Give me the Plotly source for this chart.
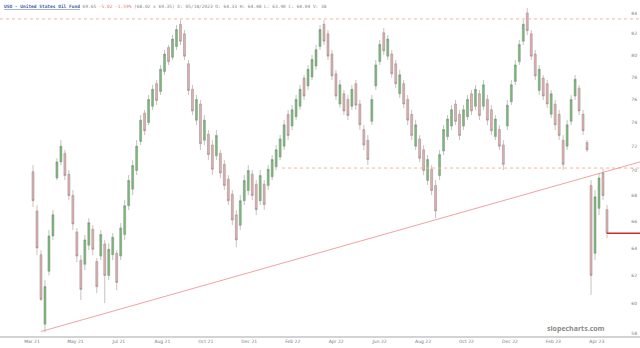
import plotly.graph_objects as go

# ---- data ----
opens = [69.9, 66.8, 63.5, 58.6, 62.3, 64.9, 69.4, 70.7, 71.4, 69.7,
         68.0, 65.2, 63.1, 62.8, 64.2, 65.4, 63.0, 63.4, 64.3, 62.0,
         63.5, 63.6, 63.4, 65.0, 67.2, 68.5, 70.0, 72.4, 74.8, 74.0,
         75.4, 77.4, 76.7, 78.5, 80.7, 79.8, 80.8, 82.9, 82.0, 79.2,
         76.9, 74.2, 75.6, 72.5, 73.0, 72.1, 71.2, 71.4, 70.5, 69.3,
         68.1, 66.5, 65.7, 67.6, 68.4, 69.7, 68.9, 67.6, 68.9, 68.8,
         69.5, 70.3, 71.1, 72.0, 74.7, 73.7, 74.5, 75.4, 77.9, 77.2,
         78.0, 79.0, 80.8, 82.9, 82.0, 80.1, 78.3, 75.6, 76.5, 76.0,
         75.4, 77.4, 75.6, 73.4, 72.5, 74.1, 77.2, 79.4, 82.1, 79.9,
         80.1, 79.2, 76.5, 77.4, 76.0, 74.7, 72.0, 72.6, 71.7, 69.2,
         70.1, 68.8, 69.6, 71.6, 72.8, 73.7, 75.6, 74.7, 73.7, 74.5,
         76.5, 75.4, 76.5, 75.4, 76.0, 75.1, 72.8, 73.4, 72.1, 73.7,
         75.8, 77.6, 79.4, 81.3, 84.0, 82.0, 80.1, 76.8, 77.9, 77.4,
         74.7, 75.6, 74.7, 72.5, 72.0, 74.1, 76.3, 77.0, 74.7, 72.3,
         68.8, 63.6, 67.0, 69.8, 66.9]
highs = [70.44, 67.26, 63.84, 61.66, 65.34, 66.87, 71.00, 72.51, 71.68, 70.04,
         68.43, 65.49, 63.47, 64.97, 66.25, 65.72, 63.25, 65.34, 64.59, 64.36,
         65.12, 63.84, 65.87, 67.65, 69.63, 70.85, 72.51, 74.64, 75.08, 76.39,
         77.28, 77.73, 79.09, 80.48, 80.94, 81.88, 82.84, 83.32, 82.36, 79.55,
         77.28, 76.39, 75.95, 74.64, 73.36, 72.51, 73.36, 71.68, 70.85, 69.63,
         68.43, 66.87, 68.04, 69.63, 70.44, 70.04, 69.23, 70.04, 69.23, 70.44,
         71.26, 72.09, 72.93, 74.21, 75.08, 75.51, 76.39, 77.28, 78.18, 79.09,
         80.01, 80.94, 82.84, 83.32, 82.36, 80.48, 78.64, 77.73, 76.84, 76.39,
         77.28, 77.73, 75.95, 73.78, 72.93, 76.39, 79.55, 81.41, 82.55, 81.88,
         80.48, 79.55, 78.64, 77.73, 76.39, 75.08, 74.21, 72.93, 72.09, 71.26,
         70.44, 69.23, 71.68, 73.78, 74.64, 75.51, 75.95, 75.08, 75.51, 76.39,
         76.84, 77.28, 76.84, 77.73, 76.39, 75.51, 74.64, 73.78, 72.51, 75.95,
         77.73, 79.55, 81.41, 83.32, 84.48, 82.36, 80.48, 79.09, 78.18, 77.73,
         76.84, 75.95, 75.08, 72.93, 74.21, 76.39, 78.18, 77.28, 75.08, 72.51,
         69.23, 68.43, 69.79, 70.12, 67.26]
lows = [67.10, 63.47, 60.20, 58.05, 62.00, 64.59, 69.23, 70.44, 69.23, 67.65,
        65.34, 62.96, 60.25, 62.38, 63.84, 63.47, 60.74, 63.11, 60.04, 61.66,
        63.11, 60.95, 63.11, 64.59, 66.87, 68.04, 69.63, 72.09, 72.93, 73.78,
        75.08, 75.51, 76.39, 78.18, 79.09, 79.55, 80.48, 80.94, 79.55, 76.39,
        74.64, 73.78, 71.68, 72.09, 70.85, 69.63, 70.85, 69.39, 68.43, 67.26,
        65.72, 64.06, 65.34, 67.26, 68.04, 67.65, 66.48, 67.26, 66.87, 68.43,
        69.23, 70.04, 70.85, 71.68, 72.51, 73.36, 74.21, 75.08, 75.95, 76.84,
        77.73, 78.64, 80.48, 80.94, 79.55, 77.73, 75.95, 75.25, 74.64, 74.21,
        75.08, 75.08, 73.36, 71.68, 70.44, 73.78, 76.84, 79.09, 80.01, 79.55,
        77.91, 77.02, 76.13, 75.25, 73.78, 72.51, 71.68, 70.69, 69.63, 68.83,
        68.04, 66.25, 69.23, 71.26, 72.51, 73.36, 73.78, 72.51, 73.36, 74.21,
        74.64, 75.08, 74.21, 75.08, 73.78, 72.93, 72.51, 71.68, 70.04, 73.36,
        75.51, 77.28, 79.09, 80.94, 81.88, 79.55, 77.73, 76.39, 75.95, 75.25,
        74.38, 73.36, 72.51, 70.04, 71.68, 73.78, 75.95, 74.64, 72.93, 71.51,
        60.60, 63.11, 66.48, 67.65, 64.74]
closes = [67.6, 64.0, 60.3, 61.2, 64.9, 66.5, 70.7, 72.0, 69.6, 68.0,
          65.8, 63.4, 61.0, 64.6, 65.9, 63.9, 61.2, 65.0, 62.0, 63.9,
          64.8, 61.5, 65.5, 67.2, 69.2, 70.4, 72.0, 74.2, 73.3, 76.0,
          76.9, 75.9, 78.7, 80.1, 79.4, 81.5, 82.4, 81.3, 79.9, 76.8,
          75.0, 76.0, 72.2, 74.2, 71.3, 70.1, 72.9, 69.8, 68.8, 67.6,
          66.1, 64.6, 67.6, 69.2, 70.0, 68.0, 66.9, 69.6, 67.3, 70.1,
          70.9, 71.7, 72.6, 73.8, 72.9, 75.1, 76.0, 76.9, 76.3, 78.7,
          79.6, 80.5, 82.4, 81.3, 79.9, 78.1, 76.3, 77.3, 75.0, 74.6,
          76.9, 75.5, 73.8, 72.1, 70.9, 76.0, 79.1, 81.0, 80.4, 81.5,
          78.3, 77.4, 78.2, 75.6, 74.2, 72.9, 73.8, 71.0, 70.0, 70.9,
          68.4, 66.8, 71.3, 73.4, 74.3, 75.1, 74.1, 72.9, 75.1, 76.0,
          75.0, 76.9, 74.6, 77.3, 74.2, 73.3, 74.3, 72.0, 70.5, 75.5,
          77.3, 79.1, 81.0, 82.9, 82.3, 79.9, 78.1, 78.7, 76.3, 75.6,
          76.5, 73.8, 72.9, 70.5, 73.8, 76.0, 77.8, 75.0, 73.3, 71.7,
          62.0, 67.9, 69.4, 68.0, 65.1]

x_labels = ["Mar 21", "May 21", "Jul 21", "Aug 21", "Oct 21", "Dec 21", "Feb 22",
            "Apr 22", "Jun 22", "Aug 22", "Oct 22", "Dec 22", "Feb 23", "Apr 23"]
y_ticks = [58, 60, 62, 64, 66, 68, 70, 72, 74, 76, 78, 80, 82, 84]

resistance_top = 83.42
resistance_mid = 70.2
resistance_mid_start = 62.5          # candle index where the mid level begins
trend_start = (2, 58.1)              # (candle index, price)
trend_end_price = 70.7

header_name = "USO - United States Oil Fund"
header_last = "69.65"
header_change = "-5.02 -1.59%"
header_rest = "(68.02 x 69.35) D: 05/18/2023 O: 64.33 H: 64.48 L: 63.90 C: 64.04 V: 38"

# ---- figure ----
n = len(closes)
xs = list(range(n))
x_lo, x_hi = -8.28, 152.28

fig = go.Figure()
fig.add_trace(go.Candlestick(
    x=xs, open=opens, high=highs, low=lows, close=closes,
    increasing=dict(line=dict(color="#7d8a7d", width=0.5), fillcolor="#78bb78"),
    decreasing=dict(line=dict(color="#968484", width=0.5), fillcolor="#deb0b0"),
    whiskerwidth=0, showlegend=False, hoverinfo="skip"))

dash_style = dict(color="#f4b497", width=1, dash="3px,3px")
fig.add_trace(go.Scatter(x=[x_lo, x_hi], y=[resistance_top, resistance_top], mode="lines",
                         line=dash_style, showlegend=False, hoverinfo="skip"))
fig.add_trace(go.Scatter(x=[resistance_mid_start, x_hi], y=[resistance_mid, resistance_mid],
                         mode="lines", line=dash_style, showlegend=False, hoverinfo="skip"))
fig.add_trace(go.Scatter(x=[trend_start[0], x_hi], y=[trend_start[1], trend_end_price],
                         mode="lines", line=dict(color="#ec7a7a", width=0.7),
                         showlegend=False, hoverinfo="skip"))
fig.add_trace(go.Scatter(x=[n - 1, x_hi], y=[closes[-1], closes[-1]], mode="lines",
                         line=dict(color="#d02a2a", width=1.5),
                         showlegend=False, hoverinfo="skip"))

tickvals = [-0.25 + 10.9 * k for k in range(len(x_labels))]

fig.update_layout(
    width=640, height=348,
    margin=dict(l=0, r=0, t=0, b=12),
    paper_bgcolor="white", plot_bgcolor="white",
    xaxis=dict(range=[x_lo, x_hi], rangeslider=dict(visible=False), showgrid=False,
               zeroline=False, showline=True, linecolor="#d3d3d3", linewidth=2,
               tickmode="array", tickvals=tickvals, ticktext=x_labels, ticks="",
               tickfont=dict(size=4.5, color="#7a7a8a", family="DejaVu Sans")),
    yaxis=dict(type="log", range=[1.76193, 1.93079], side="right",
               ticklabelposition="inside", showgrid=False, zeroline=False, ticks="",
               tickmode="array", tickvals=y_ticks, ticktext=[str(v) for v in y_ticks],
               tickfont=dict(size=4.5, color="#7a7a8a", family="DejaVu Sans")),
    font=dict(family="DejaVu Sans"),
)

fig.add_annotation(
    xref="paper", yref="paper", x=0, y=1, xanchor="left", yanchor="top",
    xshift=2, yshift=-2, showarrow=False, align="left",
    text=(f"<span style='color:#3a5bb0'><b><u>{header_name}</u></b></span>"
          f" <span style='color:#888'>{header_last}</span>"
          f" <span style='color:#e07a7a'>{header_change}</span>"
          f" <span style='color:#888'>{header_rest}</span>"),
    font=dict(size=4.5, family="DejaVu Sans Mono", color="#888"))

fig.add_annotation(
    xref="paper", yref="paper", x=0.949, y=0.0, xanchor="right", yanchor="bottom",
    yshift=1, showarrow=False, text="<b>slopecharts.com</b>",
    font=dict(size=7, family="Open Sans", color="#8a8a8a"))

fig.write_html("out.html")
